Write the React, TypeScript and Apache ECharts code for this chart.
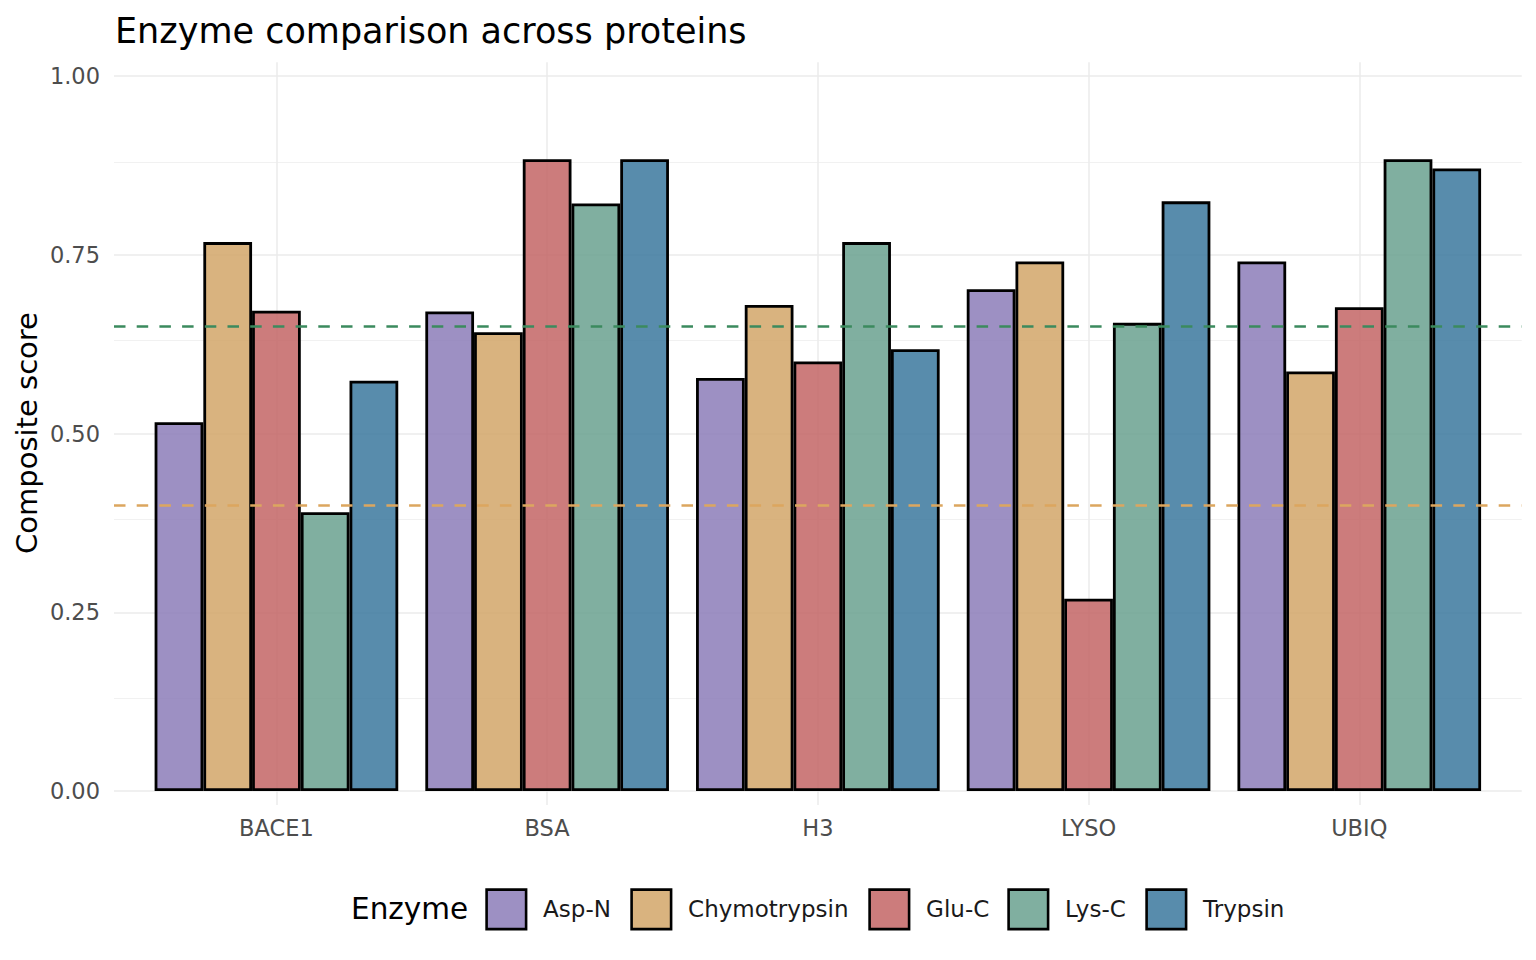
import React, { useEffect, useRef } from "react";
import * as echarts from "echarts";

// Proteins on the x axis and the enzymes compared within each protein
const proteins = ["BACE1", "BSA", "H3", "LYSO", "UBIQ"];
const enzymes = ["Asp-N", "Chymotrypsin", "Glu-C", "Lys-C", "Trypsin"];

// Composite score per protein, one array per enzyme (same order as proteins)
const aspN = [0.516, 0.671, 0.578, 0.702, 0.741];
const chymotrypsin = [0.768, 0.642, 0.68, 0.741, 0.587];
const gluC = [0.672, 0.884, 0.601, 0.269, 0.677];
const lysC = [0.39, 0.822, 0.768, 0.655, 0.884];
const trypsin = [0.574, 0.884, 0.618, 0.825, 0.871];

// Reference thresholds drawn as dashed lines
const upperThreshold = 0.65;
const lowerThreshold = 0.4;

// Axis ticks
const yTicks = [0, 0.25, 0.5, 0.75, 1];
const yMinorTicks = [0.125, 0.375, 0.625, 0.875];

const FONT = "DejaVu Sans";

const enzymeColors = [
  "rgba(140,124,184,0.85)",
  "rgba(210,166,104,0.85)",
  "rgba(195,101,101,0.85)",
  "rgba(106,161,143,0.85)",
  "rgba(59,120,157,0.85)",
];

const enzymeScores = [aspN, chymotrypsin, gluC, lysC, trypsin];

// Panel geometry (pixels)
const PANEL_LEFT = 114;
const PANEL_RIGHT = 1521.7;
const PANEL_TOP = 62.3;
const PANEL_BOTTOM = 805;
const Y_MIN = -0.0195;
const Y_MAX = 1.0195;
// discrete x scale expands 0.6 category units on each side
const unit = (PANEL_RIGHT - PANEL_LEFT) / (proteins.length - 1 + 1.2);

const legendLefts = [485.3, 630.3, 868.3, 1007.3, 1145.3];

export default function App() {
  const ref = useRef<HTMLDivElement>(null);

  useEffect(() => {
    if (!ref.current) return;
    const chart = echarts.init(ref.current, undefined, { renderer: "svg" });

    const gridLineStyle = { color: "#ebebeb", width: 1.5, type: "solid" as const };
    const minorLineStyle = { color: "#ededed", width: 0.8, type: "solid" as const };

    const option: any = {
      animation: false,
      backgroundColor: "#ffffff",
      textStyle: { fontFamily: FONT },
      grid: [
        {
          left: PANEL_LEFT,
          right: 1536 - PANEL_RIGHT,
          top: PANEL_TOP,
          bottom: 960 - PANEL_BOTTOM,
        },
        {
          left: PANEL_LEFT + 0.1 * unit,
          right: 1536 - (PANEL_RIGHT - 0.1 * unit),
          top: PANEL_TOP,
          bottom: 960 - PANEL_BOTTOM,
        },
      ],
      xAxis: [
        {
          type: "value",
          gridIndex: 0,
          min: 0.4,
          max: proteins.length + 0.6,
          show: false,
        },
        {
          type: "category",
          gridIndex: 1,
          data: proteins,
          axisLine: { show: false },
          axisTick: { show: false },
          splitLine: { show: false },
          axisLabel: {
            color: "#4d4d4d",
            fontSize: 22.5,
            fontFamily: FONT,
            margin: 11,
          },
        },
      ],
      yAxis: [
        {
          type: "value",
          gridIndex: 0,
          min: Y_MIN,
          max: Y_MAX,
          axisLine: { show: false },
          axisTick: { show: false, customValues: yTicks },
          splitLine: { show: false },
          axisLabel: {
            customValues: yTicks,
            color: "#4d4d4d",
            fontSize: 22.5,
            fontFamily: FONT,
            margin: 14,
            formatter: (v: number) => v.toFixed(2),
          },
        },
        {
          type: "value",
          gridIndex: 1,
          min: Y_MIN,
          max: Y_MAX,
          show: false,
        },
      ],
      legend: enzymes.map((name, i) => ({
        data: [name],
        left: legendLefts[i],
        top: 888.3,
        padding: 0,
        itemWidth: 39.5,
        itemHeight: 39.5,
        icon: "rect",
        selectedMode: false,
        itemStyle: { borderColor: "#000000", borderWidth: 2.6 },
        textStyle: {
          fontSize: 23,
          fontFamily: FONT,
          color: "#1a1a1a",
          padding: [0, 0, 0, 12],
        },
      })),
      graphic: [
        {
          type: "text",
          left: 115,
          top: 13,
          style: {
            text: "Enzyme comparison across proteins",
            fontSize: 35,
            fontFamily: FONT,
            fill: "#000000",
          },
        },
        {
          type: "text",
          x: 27,
          y: 433,
          rotation: Math.PI / 2,
          style: {
            text: "Composite score",
            fontSize: 29,
            fontFamily: FONT,
            fill: "#000000",
            align: "center",
            verticalAlign: "middle",
          },
        },
        {
          type: "text",
          x: 351,
          y: 909,
          style: {
            text: "Enzyme",
            fontSize: 29.5,
            fontFamily: FONT,
            fill: "#000000",
            align: "left",
            verticalAlign: "middle",
          },
        },
      ],
      series: [
        // panel grid lines, beneath the bars
        {
          type: "line",
          xAxisIndex: 0,
          yAxisIndex: 0,
          data: [],
          z: 0,
          silent: true,
          markLine: {
            z: 0,
            silent: true,
            symbol: ["none", "none"],
            label: { show: false },
            emphasis: { disabled: true },
            data: [
              ...yMinorTicks.map((v) => ({ yAxis: v, lineStyle: minorLineStyle })),
              ...yTicks.map((v) => ({ yAxis: v, lineStyle: gridLineStyle })),
              ...proteins.map((_, i) => ({ xAxis: i + 1, lineStyle: gridLineStyle })),
            ],
          },
        },
        ...enzymes.map((name, i) => ({
          type: "bar",
          name,
          xAxisIndex: 1,
          yAxisIndex: 1,
          data: enzymeScores[i],
          barGap: "0%",
          barCategoryGap: "10%",
          z: 2,
          itemStyle: {
            color: enzymeColors[i],
            borderColor: "#000000",
            borderWidth: 2.8,
          },
          emphasis: { disabled: true },
        })),
        // threshold lines, above the bars
        {
          type: "line",
          xAxisIndex: 0,
          yAxisIndex: 0,
          data: [],
          z: 10,
          silent: true,
          markLine: {
            z: 10,
            silent: true,
            symbol: ["none", "none"],
            label: { show: false },
            emphasis: { disabled: true },
            data: [
              {
                yAxis: upperThreshold,
                lineStyle: { color: "#3b8a5e", width: 2.6, type: [11.5, 11.2] },
              },
              {
                yAxis: lowerThreshold,
                lineStyle: { color: "#dca65f", width: 2.6, type: [11.5, 11.2] },
              },
            ],
          },
        },
      ],
    };

    chart.setOption(option);
    return () => chart.dispose();
  }, []);

  return (
    <div
      ref={ref}
      style={{ position: "fixed", left: 0, top: 0, width: 1536, height: 960 }}
    />
  );
}
